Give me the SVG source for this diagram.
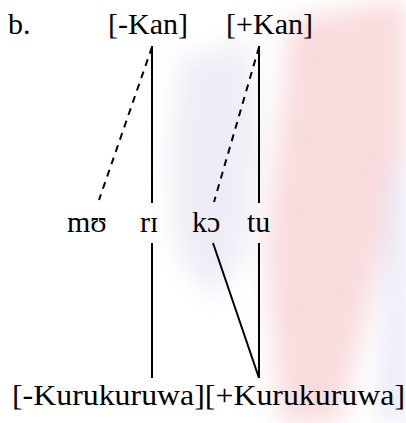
<svg xmlns="http://www.w3.org/2000/svg" width="406" height="423" viewBox="0 0 406 423">
<style>
.s{stroke:#000;stroke-width:2;fill:none}
.d{stroke:#000;stroke-width:2;fill:none;stroke-dasharray:7,6}
</style>
<defs>
<filter id="bl" x="-20%" y="-20%" width="140%" height="140%"><feGaussianBlur stdDeviation="12"/></filter>
</defs>
<rect width="406" height="423" fill="#fff"/>
<g id="watermark" filter="url(#bl)" opacity="0.6">
<path d="M290 20 L406 0 L406 160 L370 300 L340 423 L280 423 L265 250 L280 120 Z" fill="#f6c4c8"/>
<path d="M180 60 L250 40 L260 140 L245 260 L210 300 L175 250 L170 150 Z" fill="#e4e2f2"/>
<path d="M390 170 L406 160 L406 423 L380 423 Z" fill="#d8d8f4"/>
</g>
<g id="connectors">
<line class="s" x1="152" y1="46" x2="152" y2="203"/>
<line class="s" x1="152" y1="243" x2="152" y2="378"/>
<line class="s" x1="259" y1="46" x2="259" y2="203"/>
<line class="s" x1="259" y1="243" x2="259" y2="378"/>
<line class="d" x1="152" y1="47" x2="99" y2="200"/>
<line class="d" x1="259" y1="47" x2="214" y2="202"/>
<line class="s" x1="213" y1="243" x2="259" y2="378"/>
</g>
<g font-family="Liberation Serif, DejaVu Serif, serif" font-size="30" fill="#000">
<g id="label-b"><text x="8" y="34">b.</text></g>
<g id="node-minus-kan"><text x="108" y="34" textLength="80" lengthAdjust="spacingAndGlyphs">[-Kan]</text></g>
<g id="node-plus-kan"><text x="226" y="34" textLength="87" lengthAdjust="spacingAndGlyphs">[+Kan]</text></g>
<g id="node-mo"><text x="67" y="232">mʊ</text></g>
<g id="node-ri"><text x="140" y="232">rɪ</text></g>
<g id="node-ko"><text x="192" y="232">kɔ</text></g>
<g id="node-tu"><text x="247" y="232">tu</text></g>
<g id="node-kurukuruwa"><text x="12" y="405" textLength="393" lengthAdjust="spacingAndGlyphs">[-Kurukuruwa][+Kurukuruwa]</text></g>
</g>
</svg>
